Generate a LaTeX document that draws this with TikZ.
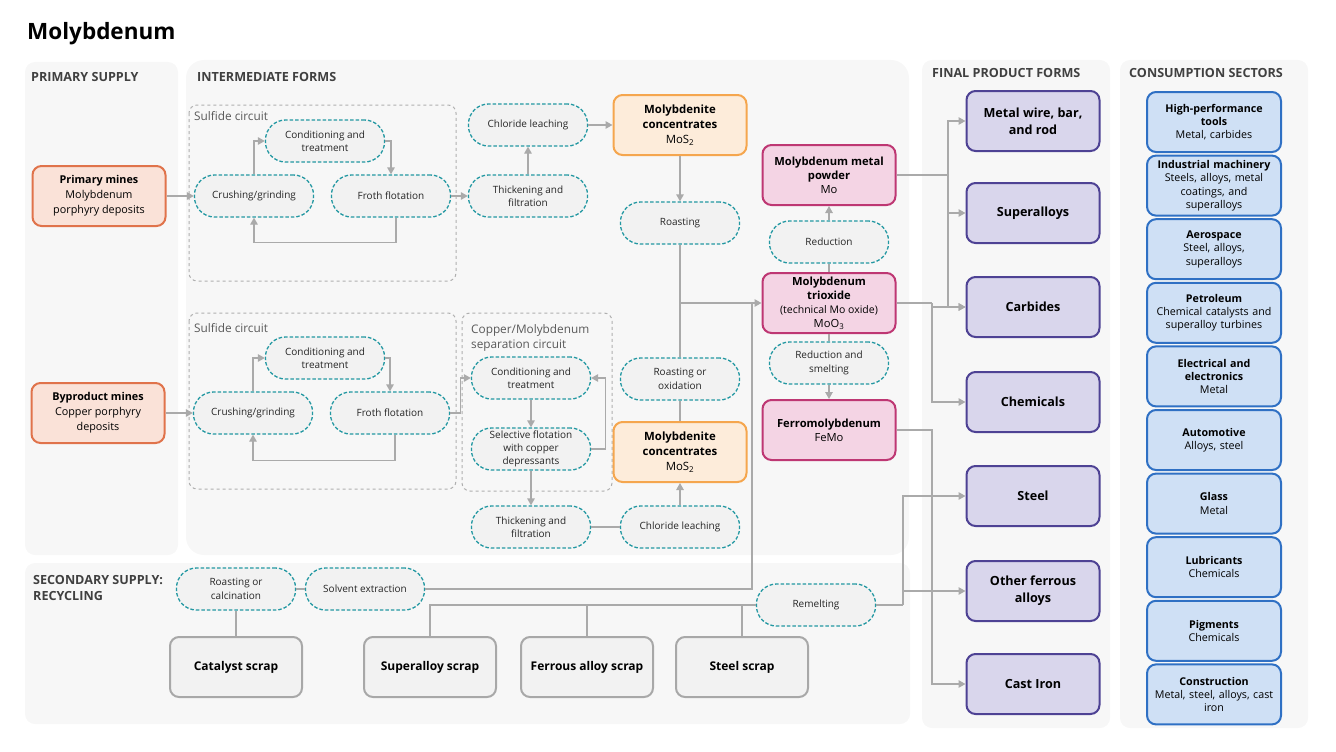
\documentclass[tikz,border=0pt]{standalone}
\usepackage{fontspec}
\setmainfont{Open Sans}
\usetikzlibrary{positioning,arrows.meta,calc}
\definecolor{PanelGray}{RGB}{247,247,247}
\definecolor{ProcTeal}{RGB}{35,152,162}
\definecolor{ProcFill}{RGB}{242,242,242}
\definecolor{LinkGray}{RGB}{170,170,170}
\definecolor{HeadGray}{RGB}{64,64,64}
\definecolor{CircGray}{RGB}{175,175,175}
\definecolor{MineLine}{RGB}{224,115,75}
\definecolor{MineFill}{RGB}{250,226,216}
\definecolor{ConcLine}{RGB}{245,166,78}
\definecolor{ConcFill}{RGB}{253,236,218}
\definecolor{MoLine}{RGB}{190,55,115}
\definecolor{MoFill}{RGB}{244,212,228}
\definecolor{ProdLine}{RGB}{78,66,148}
\definecolor{ProdFill}{RGB}{217,214,236}
\definecolor{UseLine}{RGB}{47,112,196}
\definecolor{UseFill}{RGB}{207,224,245}
\definecolor{ScrapLine}{RGB}{168,168,168}

\begin{document}
\begin{tikzpicture}[x=1pt, y=-1pt, every node/.style={align=center}]
\tikzset{
  panel/.style={fill=PanelGray, rounded corners=10pt},
  seclabel/.style={anchor=west, inner sep=0pt, text=HeadGray, align=left, font=\bfseries\fontsize{12.6}{16.5}\selectfont},
  circbox/.style={draw=CircGray, dashed, line width=1pt, rounded corners=8pt},
  circlabel/.style={anchor=north west, inner sep=0pt, text=black!65, align=left, font=\fontsize{11.8}{15}\selectfont},
  procbox/.style={draw=ProcTeal, fill=ProcFill, line width=1.3pt, dash pattern=on 3.5pt off 2pt, rounded corners=20pt, minimum width=119pt, minimum height=42pt, inner sep=1pt, text=black!85, font=\fontsize{10}{13.5}\selectfont},
  solidbox/.style={line width=2pt, rounded corners=9pt, minimum width=133pt, minimum height=60pt, inner sep=1pt},
  minebox/.style={solidbox, draw=MineLine, fill=MineFill, font=\fontsize{10.8}{15}\selectfont},
  concbox/.style={solidbox, draw=ConcLine, fill=ConcFill, font=\fontsize{11.4}{15}\selectfont},
  mobox/.style={solidbox, draw=MoLine, fill=MoFill, font=\fontsize{11.2}{14}\selectfont},
  prodbox/.style={solidbox, draw=ProdLine, fill=ProdFill, font=\bfseries\fontsize{12.6}{17}\selectfont},
  usebox/.style={solidbox, minimum width=134pt, text width=130pt, draw=UseLine, fill=UseFill, font=\fontsize{10.7}{13.4}\selectfont},
  scrapbox/.style={solidbox, minimum width=132pt, draw=ScrapLine, fill=ProcFill, font=\bfseries\fontsize{12}{14}\selectfont},
  link/.style={draw=LinkGray, line width=1.3pt},
  arr/.style={link, -{Triangle[length=7pt,width=7.5pt]}}
}
\useasboundingbox (0,0) rectangle (1336,752);
\node[anchor=base west, inner sep=0pt, font=\bfseries\fontsize{22.5}{26}\selectfont] (title) at (27,40) {Molybdenum};

% background panels
\fill[panel] (25,62) rectangle (178,555);
\fill[panel, rounded corners=18pt] (186,60) rectangle (909,555);
\fill[panel] (922,60) rectangle (1110,728);
\fill[panel] (1120,60) rectangle (1308,728);
\fill[panel] (25,563) rectangle (910,724);
\node[seclabel] (lprim) at (31,77) {PRIMARY SUPPLY};
\node[seclabel] (linter) at (197,77) {INTERMEDIATE FORMS};
\node[seclabel] (lfinal) at (932,73) {FINAL PRODUCT FORMS};
\node[seclabel] (luse) at (1129,73) {CONSUMPTION SECTORS};
\node[seclabel, anchor=north west] (lsec) at (33,575) {SECONDARY SUPPLY:\\RECYCLING};

% circuits
\draw[circbox] (189,105) rectangle (456,281);
\node[circlabel] (lsulf1) at (194,111) {Sulfide circuit};
\draw[circbox] (189,313) rectangle (456,489);
\node[circlabel] (lsulf2) at (194,323) {Sulfide circuit};
\draw[circbox] (462,313) rectangle (612,491);
\node[circlabel] (lsep) at (471,324) {Copper/Molybdenum\\separation circuit};

% primary route
\node[minebox] (prim) at (99,196) {\textbf{Primary mines}\\Molybdenum\\porphyry deposits};
\node[procbox] (crush1) at (254,196) {Crushing/grinding};
\node[procbox] (cond1) at (325,141) {Conditioning and\\treatment};
\node[procbox] (froth1) at (391,196) {Froth flotation};
\node[procbox] (thick1) at (528,196) {Thickening and\\filtration};
\node[procbox] (chl1) at (528,125) {Chloride leaching};
\node[concbox] (conc1) at (680,125) {\textbf{Molybdenite}\\\textbf{concentrates}\\MoS\textsubscript{2}};
\node[procbox] (roast) at (680,223) {Roasting};

% byproduct route
\node[minebox] (byp) at (98,413) {\textbf{Byproduct mines}\\Copper porphyry\\deposits};
\node[procbox] (crush2) at (253,413) {Crushing/grinding};
\node[procbox] (cond2) at (325,358) {Conditioning and\\treatment};
\node[procbox] (froth2) at (390,413) {Froth flotation};
\node[procbox] (cond3) at (531,378) {Conditioning and\\treatment};
\node[procbox, font=\fontsize{10}{13}\selectfont] (sel) at (531,449) {Selective flotation\\with copper\\depressants};
\node[procbox] (thick2) at (531,527) {Thickening and\\filtration};
\node[procbox] (chl2) at (680,527) {Chloride leaching};
\node[concbox] (conc2) at (680,452) {\textbf{Molybdenite}\\\textbf{concentrates}\\MoS\textsubscript{2}};
\node[procbox] (roastox) at (680,379) {Roasting or\\oxidation};

% molybdenum products
\node[mobox] (pow) at (829,175) {\textbf{Molybdenum metal}\\\textbf{powder}\\Mo};
\node[procbox] (red) at (829,242) {Reduction};
\node[mobox] (trio) at (829,303) {\textbf{Molybdenum}\\\textbf{trioxide}\\{\fontsize{10.5}{13.5}\selectfont(technical Mo oxide)}\\MoO\textsubscript{3}};
\node[procbox] (redsm) at (829,363) {Reduction and\\smelting};
\node[mobox] (ferro) at (829,430) {\textbf{Ferromolybdenum}\\FeMo};

% recycling
\node[procbox] (roastc) at (236,589) {Roasting or\\calcination};
\node[procbox] (solv) at (365,589) {Solvent extraction};
\node[procbox] (remelt) at (816,605) {Remelting};
\node[scrapbox] (cat) at (236,667) {Catalyst scrap};
\node[scrapbox] (supscr) at (430,667) {Superalloy scrap};
\node[scrapbox] (ferscr) at (587,667) {Ferrous alloy scrap};
\node[scrapbox] (stlscr) at (742,667) {Steel scrap};

% final product forms
\node[prodbox] (wire) at (1033,121) {Metal wire, bar,\\and rod};
\node[prodbox] (supa) at (1033,213) {Superalloys};
\node[prodbox] (carb) at (1033,307) {Carbides};
\node[prodbox] (chem) at (1033,402) {Chemicals};
\node[prodbox] (steel) at (1033,496) {Steel};
\node[prodbox] (ofer) at (1033,591) {Other ferrous\\alloys};
\node[prodbox] (cast) at (1033,684) {Cast Iron};

% consumption sectors
\foreach \hd/\sub [count=\i] in {{High-performance\\tools}/{Metal, carbides},
  {Industrial machinery}/{Steels, alloys, metal\\coatings, and\\superalloys},
  {Aerospace}/{Steel, alloys,\\superalloys},
  {Petroleum}/{Chemical catalysts and\\superalloy turbines},
  {Electrical and\\electronics}/{Metal},
  {Automotive}/{Alloys, steel},
  {Glass}/{Metal},
  {Lubricants}/{Chemicals},
  {Pigments}/{Chemicals},
  {Construction}/{Metal, steel,\ alloys, cast\\iron}}
  \node[usebox] (use\i) at (1214,{122+63.6*(\i-1)}) {\textbf{\hd}\\\sub};

% primary route links
\draw[arr] (prim) -- (crush1);
\draw[arr] (crush1.north) |- (cond1.west);
\draw[arr] (cond1.east) -| (froth1.north);
\draw[arr] ([xshift=5pt]froth1.south) -- ++(0,25) -| (crush1.south);
\draw[arr] (froth1) -- (thick1);
\draw[arr] (thick1) -- (chl1);
\draw[arr] (chl1) -- (conc1);
\draw[arr] (conc1) -- (roast);

% byproduct route links
\draw[arr] (byp) -- (crush2);
\draw[arr] (crush2.north) |- (cond2.west);
\draw[arr] (cond2.east) -| (froth2.north);
\draw[arr] ([xshift=5pt]froth2.south) -- ++(0,26) -| (crush2.south);
\draw[arr] (froth2.east) -- ++(10,0) |- (cond3.west);
\draw[arr] (cond3) -- (sel);
\draw[arr] (sel.east) -- ++(14,0) |- (cond3.east);
\draw[arr] (sel) -- (thick2);
\draw[link] (thick2) -- (chl2);
\draw[arr] (chl2) -- (conc2);
\draw[link] (conc2) -- (roastox);

% oxide and metal
\coordinate (jn) at (680,303);
\coordinate (recin) at (752,303);
\draw[link] (roast) -- (jn);
\draw[link] (roastox) -- (jn);
\draw[arr] (jn) -- (trio);
\draw[link] (trio) -- (red);
\draw[arr] (red) -- (pow);
\draw[link] (trio) -- (redsm);
\draw[arr] (redsm) -- (ferro);

% to final product forms
\coordinate (px) at (948,175);
\coordinate (tx) at (932,303);
\coordinate (fx) at (932,430);
\coordinate (rx) at (903,605);
\draw[link] (pow.east) -- (px);
\draw[arr] (px) |- (wire.west);
\draw[arr] (px) |- (supa.west);
\draw[arr] (px) |- (carb.west);
\draw[link] (trio.east) -- (tx);
\draw[arr] (tx) |- (carb.west);
\draw[arr] (tx) |- (chem.west);
\draw[arr] (ferro.east) -- (fx) |- (cast.west);
\draw[link] (remelt.east) -- (rx);
\draw[arr] (rx) |- (steel.west);
\draw[arr] (rx) |- (ofer.west);

% recycling links
\draw[link] (cat) -- (roastc);
\draw[link] (roastc) -- (solv);
\draw[link] (solv) -| (recin);
\draw[link] (supscr.north) |- (remelt.west);
\draw[link] (ferscr.north) -- (ferscr.north |- remelt.west);
\draw[link] (stlscr.north) -- (stlscr.north |- remelt.west);
\end{tikzpicture}
\end{document}
